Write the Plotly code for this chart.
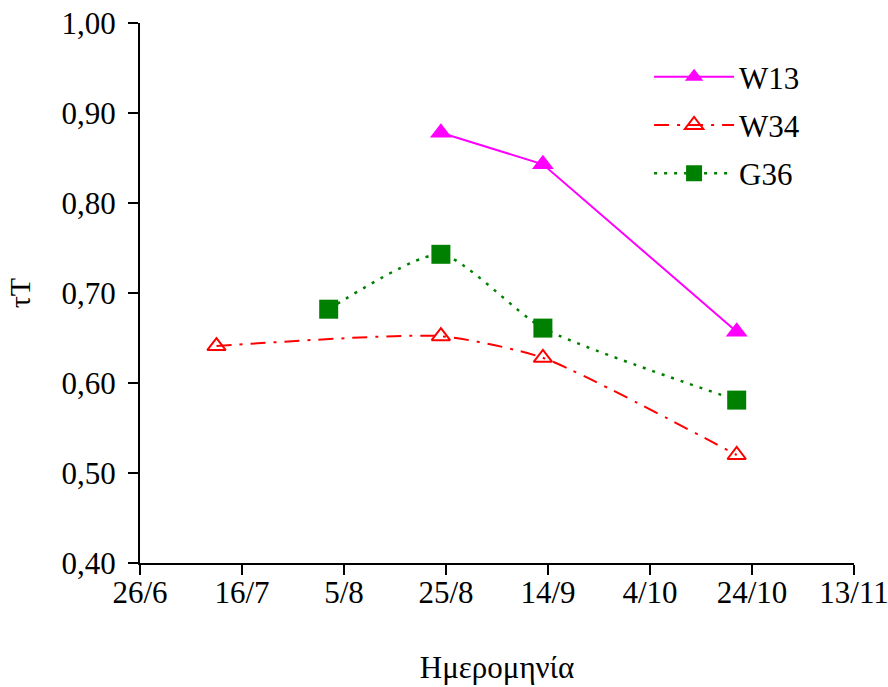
import plotly.graph_objects as go

# Data
w13_dates = ["2001-08-24", "2001-09-13", "2001-10-21"]
w13_vals = [0.878, 0.843, 0.657]

w34_dates = ["2001-07-11", "2001-08-24", "2001-09-13", "2001-10-21"]
w34_vals = [0.641, 0.652, 0.628, 0.520]

g36_dates = ["2001-08-02", "2001-08-24", "2001-09-13", "2001-10-21"]
g36_vals = [0.682, 0.743, 0.661, 0.581]

x_tick_dates = ["2001-06-26", "2001-07-16", "2001-08-05", "2001-08-25",
                "2001-09-14", "2001-10-04", "2001-10-24", "2001-11-13"]
x_tick_labels = ["26/6", "16/7", "5/8", "25/8", "14/9", "4/10", "24/10", "13/11"]
y_tick_vals = [0.40, 0.50, 0.60, 0.70, 0.80, 0.90, 1.00]

FONT = "Liberation Serif, Times New Roman, serif"

fig = go.Figure()
fig.add_trace(go.Scatter(
    x=w13_dates, y=w13_vals, name="W13", mode="lines+markers",
    legendgroup="a",
    line=dict(color="#FF00FF", width=2),
    marker=dict(symbol="triangle-up", size=19, color="#FF00FF"),
))
fig.add_trace(go.Scatter(
    x=w34_dates, y=w34_vals, name="W34", mode="lines+markers",
    legendgroup="b",
    line=dict(color="#FF0000", width=2, dash="15px,8px,3px,8px", shape="spline", smoothing=0.6),
    marker=dict(symbol="triangle-up-open", size=16, color="#FF0000", line=dict(width=2, color="#FF0000")),
))
fig.add_trace(go.Scatter(
    x=g36_dates, y=g36_vals, name="G36", mode="lines+markers",
    legendgroup="c",
    line=dict(color="#008000", width=2.5, dash="3px,7px", shape="spline", smoothing=0.6),
    marker=dict(symbol="square", size=19, color="#008000"),
))

fig.update_layout(
    width=888, height=687,
    margin=dict(l=140, r=34, t=23, b=124),
    paper_bgcolor="white", plot_bgcolor="white",
    separators=", ",
    font=dict(family=FONT, size=31, color="black"),
    showlegend=True,
    legend=dict(x=0.713, y=0.95, xanchor="left", yanchor="top",
                font=dict(family=FONT, size=31, color="black"),
                tracegroupgap=5, bgcolor="rgba(0,0,0,0)", itemwidth=80),
    xaxis=dict(
        type="date", range=["2001-06-26", "2001-11-13"], automargin=False,
        tickvals=x_tick_dates, ticktext=x_tick_labels,
        ticklabeloverflow="allow", ticklabelstandoff=-9,
        showgrid=False, zeroline=False, showline=True, linecolor="black", linewidth=2,
        ticks="outside", ticklen=10, tickwidth=2, tickcolor="black",
        title=dict(text="Ημερομηνία", standoff=47, font=dict(family=FONT, size=31)),
        tickfont=dict(family=FONT, size=31),
    ),
    yaxis=dict(
        range=[0.40, 1.00], tickvals=y_tick_vals, tickformat=".2f", automargin=False,
        ticklabeloverflow="allow", ticklabelstandoff=6,
        showgrid=False, zeroline=False, showline=True, linecolor="black", linewidth=2,
        ticks="outside", ticklen=10, tickwidth=2, tickcolor="black",
        title=dict(text="τT", standoff=22, font=dict(family=FONT, size=30)),
        tickfont=dict(family=FONT, size=31),
    ),
)

fig.write_html(
    "out.html",
    config={"displayModeBar": False},
    post_script="document.body.style.margin='0';document.body.style.overflow='hidden';",
)
